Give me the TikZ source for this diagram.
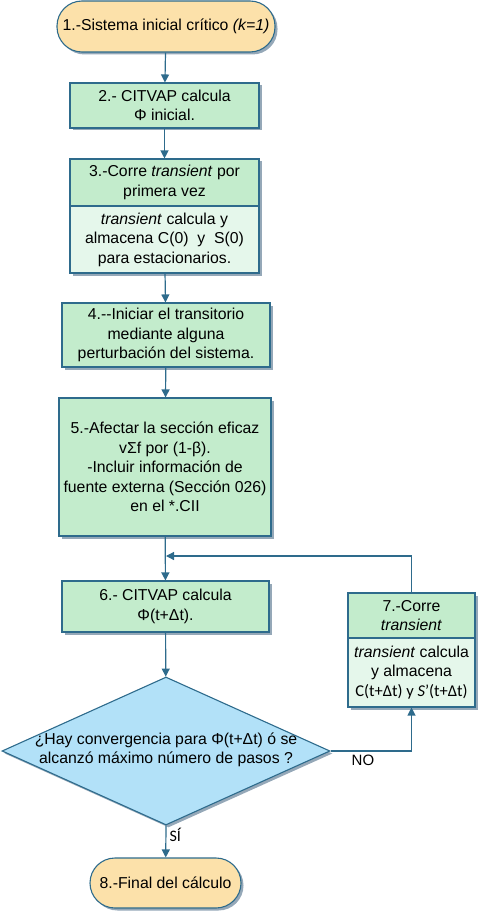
\documentclass[tikz,border=0pt]{standalone}
\usepackage{fontspec}
\setmainfont{Liberation Sans}
\newfontfamily\calib{Carlito}
\usetikzlibrary{shapes.geometric,shadows,arrows.meta}
\definecolor{bord}{HTML}{2E6B8C}
\definecolor{greenA}{HTML}{C3ECCC}
\definecolor{greenB}{HTML}{E5F7EB}
\definecolor{peach}{HTML}{FCE1AA}
\definecolor{skyb}{HTML}{B2E1F8}
\definecolor{shad}{HTML}{95A8B8}
\begin{document}
\begin{tikzpicture}[x=1pt,y=-1pt,
  every node/.style={font=\fontsize{15.8}{19.5}\selectfont, align=center, inner sep=0pt},
  shd/.style={drop shadow={shadow xshift=2.5pt,shadow yshift=-2.5pt,fill=shad,opacity=1}},
  box/.style={draw=bord, line width=1.1pt, fill=greenA, shd},
  boxlow/.style={draw=bord, line width=1.1pt, fill=greenB, shd},
  term/.style={draw=bord, line width=1.1pt, fill=peach, rounded corners=25pt, shd},
  decis/.style={diamond, draw=bord, line width=1.1pt, fill=skyb, shd},
  arr/.style={draw=bord, line width=1.2pt, -{Triangle[width=8pt,length=8pt]}},
  lbl/.style={font=\fontsize{15}{18}\selectfont, inner sep=3pt}
]
\useasboundingbox (0,0) rectangle (478,912);

\node[term, minimum width=218pt, minimum height=51pt] (n1) at (166,26.5) {1.-Sistema inicial crítico \textit{(k=1)}};
\node[box, minimum width=189pt, minimum height=45pt] (n2) at (164.5,105.5) {2.- CITVAP calcula\\ Φ inicial.};
\node[box, minimum width=189pt, minimum height=47pt] (n3a) at (164.5,182.5) {3.-Corre \textit{transient} por\\ primera vez};
\node[boxlow, minimum width=189pt, minimum height=67pt] (n3b) at (164.5,239.5) {\textit{transient} calcula y\\ almacena C(0)\ \ y\ \ S(0)\\ para estacionarios.};
\node[box, minimum width=208pt, minimum height=64pt] (n4) at (166,335) {4.-{}-Iniciar el transitorio\\ mediante alguna\\ perturbación del sistema.};
\node[box, minimum width=212pt, minimum height=138pt] (n5) at (165,467) {5.-Afectar la sección eficaz\\ vΣf por (1-β).\\ -Incluir información de\\ fuente externa (Sección 026)\\ en el *.CII};
\node[box, minimum width=207pt, minimum height=51pt] (n6) at (165.5,606.5) {6.- CITVAP calcula\\ Φ(t+Δt).};
\node[box, minimum width=127pt, minimum height=45pt] (n7a) at (411.5,615.5) {7.-Corre\\ \textit{transient}};
\node[boxlow, minimum width=127pt, minimum height=69pt] (n7b) at (411.5,672.5) {\textit{transient} calcula\\ y almacena\\ {\calib\fontsize{16.5}{19.5}\selectfont C(t+Δt) y \textit{S}’(t+Δt)}};
\node[decis, minimum width=328pt, minimum height=148pt] (d) at (166,751) {};
\node (dtext) at (166,750) {¿Hay convergencia para Φ(t+Δt) ó se\\ alcanzó máximo número de pasos ?};
\node[term, minimum width=151pt, minimum height=50pt] (n8) at (165.5,883) {8.-Final del cálculo};

\coordinate (j) at (166,556);

\draw[arr] (n1) -- (n2);
\draw[arr] (n2) -- (n3a);
\draw[arr] (n3b) -- (n4);
\draw[arr] (n4) -- (n5);
\draw[arr] (n5) -- (n6);
\draw[arr] (n6) -- (d);
\draw[arr] (n7a.north) |- (j);
\draw[arr] (d.east) -| node[lbl, pos=0.2, anchor=north] (no) {NO} (n7b.south);
\draw[arr] (d.south) -- node[lbl, pos=0.3, anchor=west, font={\calib\fontsize{16}{18}\selectfont}] (si) {SÍ} (n8);
\end{tikzpicture}
\end{document}
